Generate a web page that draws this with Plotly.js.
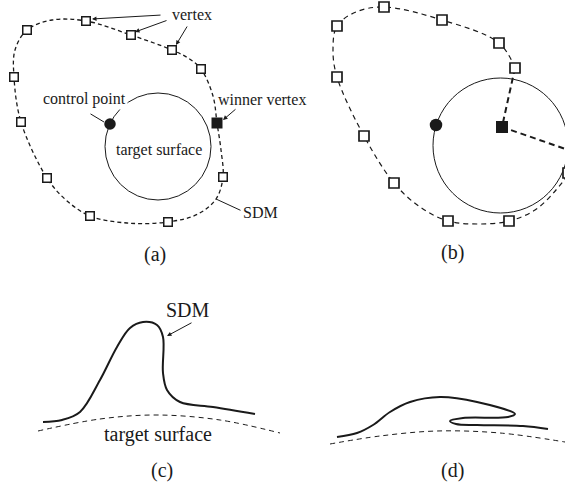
<!DOCTYPE html>
<html>
<head>
<meta charset="utf-8">
<script src="https://cdn.plot.ly/plotly-3.0.1.min.js"></script>
<style>html,body{margin:0;padding:0;background:#fff;}#chart{width:565px;height:488px;}</style>
</head>
<body>
<div id="chart"></div>
<script>
// ---- Panel (a): SDM loop around target surface ----
var pathAX = [86, 131, 172, 188, 201, 213, 217, 221, 223, 216, 198, 168, 127, 90, 66, 47, 21, 14, 15, 27, 52, 86];
var pathAY = [21, 35, 50, 58, 69, 96, 123, 150, 177, 199, 214, 222, 223, 216, 200, 178, 122, 77, 50, 30, 20, 21];
var vertexAX = [27, 86, 131, 172, 201, 223, 168, 90, 47, 21, 14];
var vertexAY = [30, 21, 35, 50, 69, 177, 222, 216, 178, 122, 77];
var winnerA = [217, 123];
var controlA = [110, 124];
var circleA = [105, 93, 211, 200];

// ---- Panel (b): winner vertex pulled inside ----
var pathBX = [515, 499, 442, 384, 356, 337, 333, 337, 364, 394, 420, 448, 478, 509, 535, 556, 568, 574];
var pathBY = [68, 43, 20, 7, 12, 26, 50, 77, 136, 183, 207, 221, 224, 221, 210, 190, 173, 150];
var pulledBX = [515, 502, 580];
var pulledBY = [68, 127, 154];
var vertexBX = [337, 384, 442, 499, 515, 337, 364, 394, 448, 509, 568];
var vertexBY = [26, 7, 20, 43, 68, 77, 136, 183, 221, 221, 173];
var winnerB = [502, 127];
var controlB = [436, 125];
var circleB = [433, 78, 568, 213];

// ---- Panel (c): SDM profile ----
var sdmCX = [43, 62, 80, 100, 117, 130, 143, 157, 163, 163, 167, 180, 213, 255];
var sdmCY = [422, 420, 412, 380, 347, 328, 322, 325, 337, 373, 390, 402, 407, 414];
var targetCX = [38, 100, 157, 220, 280];
var targetCY = [431, 419, 415, 420, 433];

// ---- Panel (d): folded SDM profile ----
var sdmDX = [337, 357, 373, 390, 410, 440, 477, 515, 508, 463, 450, 456, 477, 523, 548];
var sdmDY = [437, 433, 425, 412, 402, 397, 402, 414, 417, 418, 421, 424, 425, 426, 429];
var targetDX = [330, 380, 437, 500, 565];
var targetDY = [444, 436, 431, 433, 442];

// ---- Labels ----
var labelText = ['vertex', 'control point', 'target surface', 'winner vertex', 'SDM', '(a)', '(b)', 'SDM', 'target surface', '(c)', '(d)'];
var labelX = [192, 84, 159, 262, 260, 155, 452, 188, 158, 162, 452];
var labelY = [14, 99, 150, 99, 212, 254, 252, 310, 434, 470, 470];
var labelSize = [16, 16, 16, 16, 16, 20, 20, 20, 20, 20, 20];
var labelBg = [false, true, false, false, false, false, false, false, false, false, false];

// ---- Pointer lines (tail -> head), with/without arrowhead ----
var pointerTailX = [162, 168, 188, 89, 237, 242, 193];
var pointerTailY = [15, 20, 25, 113, 108, 211, 322];
var pointerHeadX = [92, 135, 176, 104, 223, 216, 167];
var pointerHeadY = [19, 32, 45, 122, 120, 199, 336];
var pointerHasHead = [true, true, true, false, true, false, true];

var ink = '#1a1a1a';
function line(x, y, w, dash) {
  return {x: x, y: y, mode: 'lines', type: 'scatter', hoverinfo: 'skip',
    line: {color: ink, width: w, dash: dash || 'solid', shape: 'spline', smoothing: 1}};
}
function pts(x, y, symbol, size, fill, lw) {
  return {x: x, y: y, mode: 'markers', type: 'scatter', hoverinfo: 'skip', cliponaxis: true,
    marker: {symbol: symbol, size: size, color: fill, line: {color: ink, width: lw}}};
}

var traces = [
  line(pathAX, pathAY, 1.3, '4px,3px'),
  pts(vertexAX, vertexAY, 'square', 8.5, '#fff', 1.5),
  pts([winnerA[0]], [winnerA[1]], 'square', 11, ink, 0),
  pts([controlA[0]], [controlA[1]], 'circle', 11.5, ink, 0),
  line(pathBX, pathBY, 1.2, '5px,4px'),
  {x: pulledBX, y: pulledBY, mode: 'lines', type: 'scatter', hoverinfo: 'skip',
   line: {color: ink, width: 2, dash: '6px,4px'}},
  pts(vertexBX, vertexBY, 'square', 10, '#fff', 1.7),
  pts([winnerB[0]], [winnerB[1]], 'square', 12, ink, 0),
  pts([controlB[0]], [controlB[1]], 'circle', 12.5, ink, 0),
  line(sdmCX, sdmCY, 2, 'solid'),
  line(targetCX, targetCY, 1, '5px,4px'),
  line(sdmDX, sdmDY, 2, 'solid'),
  line(targetDX, targetDY, 1, '5px,4px')
];

var shapes = [
  {type: 'circle', xref: 'x', yref: 'y', x0: circleA[0], y0: circleA[1], x1: circleA[2], y1: circleA[3], line: {color: ink, width: 1}, layer: 'below'},
  {type: 'circle', xref: 'x', yref: 'y', x0: circleB[0], y0: circleB[1], x1: circleB[2], y1: circleB[3], line: {color: ink, width: 1}, layer: 'below'}
];

var annotations = [];
for (var i = 0; i < pointerTailX.length; i++) {
  annotations.push({x: pointerHeadX[i], y: pointerHeadY[i], ax: pointerTailX[i], ay: pointerTailY[i],
    xref: 'x', yref: 'y', axref: 'x', ayref: 'y', text: '', showarrow: true,
    arrowhead: pointerHasHead[i] ? 2 : 0, arrowsize: 0.9, arrowwidth: 1, arrowcolor: ink, standoff: 0, startstandoff: 0});
}
for (var j = 0; j < labelText.length; j++) {
  annotations.push({x: labelX[j], y: labelY[j], xref: 'x', yref: 'y', text: labelText[j], showarrow: false,
    font: {family: 'Liberation Serif, Times New Roman, serif', size: labelSize[j], color: ink},
    bgcolor: labelBg[j] ? '#fff' : 'rgba(0,0,0,0)', borderpad: 1});
}

var layout = {
  width: 565, height: 488, margin: {l: 0, r: 0, t: 0, b: 0},
  paper_bgcolor: '#fff', plot_bgcolor: '#fff', showlegend: false,
  xaxis: {range: [0, 565], visible: false, fixedrange: true},
  yaxis: {range: [488, 0], visible: false, fixedrange: true},
  shapes: shapes, annotations: annotations
};
Plotly.newPlot('chart', traces, layout, {staticPlot: true, displayModeBar: false});
</script>
</body>
</html>
